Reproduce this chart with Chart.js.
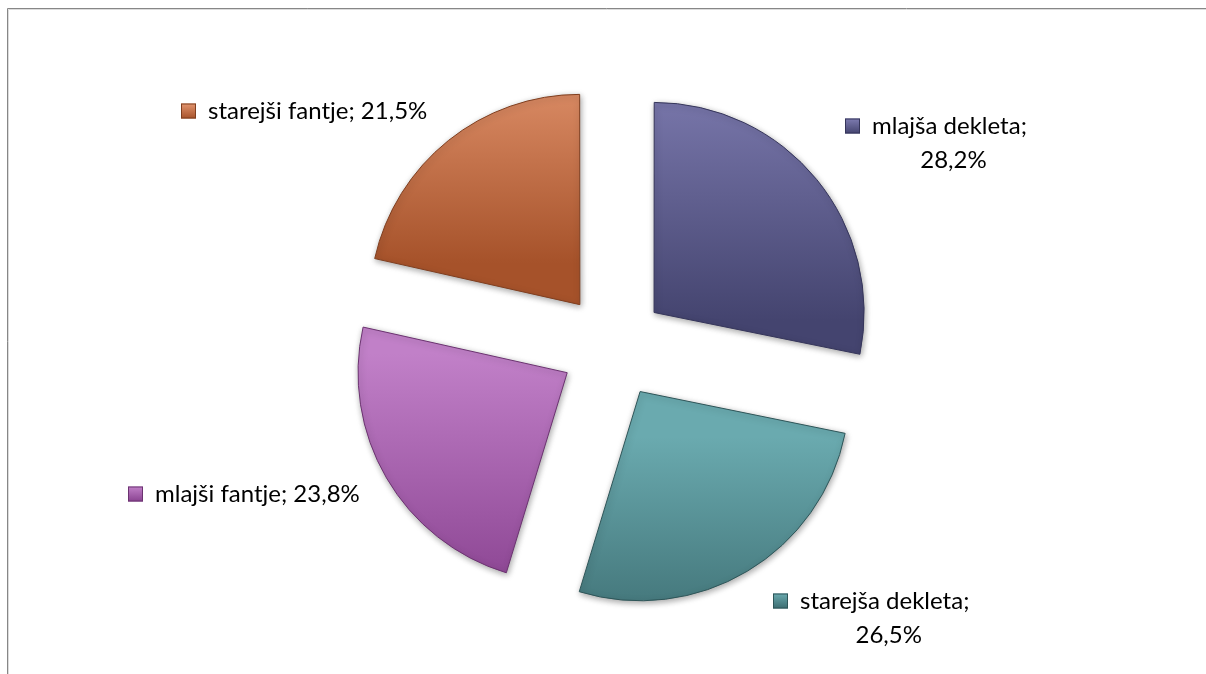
<!DOCTYPE html>
<html><head><meta charset="utf-8">
<script src="https://cdn.jsdelivr.net/npm/chart.js@4.4.0/dist/chart.umd.min.js"></script>
<style>html,body{margin:0;padding:0;background:#fff;} #wrap{position:relative;width:1206px;height:674px;}</style>
</head><body><div id="wrap"><canvas id="c" width="1206" height="674"></canvas></div>
<script>
// ---- data ----
const categories = ['mlajša dekleta', 'starejša dekleta', 'mlajši fantje', 'starejši fantje'];
const shares = [28.2, 26.5, 23.8, 21.5];
const valueLabels = ['28,2%', '26,5%', '23,8%', '21,5%'];

// ---- styles / layout ----
const gradTop = ['#7e7cb1', '#6aaaaf', '#c180c8', '#e3956f'];
const gradBottom = ['#44446f', '#3c6c70', '#894290', '#a6522a'];
const edgeColors = ['#35355a', '#2e5558', '#6b3270', '#7f3e1f'];
const labelLayout = [
  {dx: 232, dy: -220, wrap: true},
  {dx: 160, dy: 255, wrap: true},
  {dx: -485, dy: 148, wrap: false},
  {dx: -432, dy: -235, wrap: false}
];
const OFFSET = 212;   // arc offset (Chart.js translates by offset/4)
const RADIUS = 209;
const FONT = '24px Lato';
const SQ = 15;
const GAP = 12;

function sliceGeom(chart, data, i) {
  const ca = chart.chartArea;
  const total = data.reduce((a, b) => a + b, 0);
  let before = 0;
  for (let k = 0; k < i; k++) before += data[k];
  const a0 = -Math.PI / 2 + before / total * 2 * Math.PI;
  const a1 = a0 + data[i] / total * 2 * Math.PI;
  const mid = (a0 + a1) / 2;
  const cx = (ca.left + ca.right) / 2 + Math.cos(mid) * OFFSET / 4;
  const cy = (ca.top + ca.bottom) / 2 + Math.sin(mid) * OFFSET / 4;
  return {a0, a1, cx, cy};
}

function sliceGradient(ctx) {
  const chart = ctx.chart;
  const i = ctx.dataIndex;
  if (!chart.chartArea) return gradTop[i];
  const g0 = sliceGeom(chart, ctx.dataset.data, i);
  const R = RADIUS;
  const ys = [g0.cy, g0.cy + R * Math.sin(g0.a0), g0.cy + R * Math.sin(g0.a1)];
  const eps = 1e-6;
  if (g0.a0 < Math.PI / 2 && g0.a1 > Math.PI / 2) ys.push(g0.cy + R);
  if (g0.a0 <= -Math.PI / 2 + eps || g0.a1 >= 3 * Math.PI / 2 - eps) ys.push(g0.cy - R);
  const g = chart.ctx.createLinearGradient(0, Math.min(...ys), 0, Math.max(...ys));
  g.addColorStop(0, gradTop[i]);
  g.addColorStop(1, gradBottom[i]);
  return g;
}

const framePlugin = {
  id: 'frame',
  beforeDraw(chart) {
    const c = chart.ctx;
    c.save();
    c.lineWidth = 1;
    c.strokeStyle = '#dcdcdc';
    c.beginPath(); c.moveTo(8.5, chart.height); c.lineTo(8.5, 9.5); c.lineTo(chart.width, 9.5); c.stroke();
    c.strokeStyle = '#878787';
    c.beginPath(); c.moveTo(7.5, chart.height); c.lineTo(7.5, 8.5); c.lineTo(chart.width, 8.5); c.stroke();
    c.restore();
  }
};

const shadowPlugin = {
  id: 'shadow',
  beforeDatasetsDraw(chart) {
    const c = chart.ctx;
    c.save();
    c.shadowColor = 'rgba(0,0,0,0.35)';
    c.shadowBlur = 6;
    c.shadowOffsetX = 1;
    c.shadowOffsetY = 2;
  },
  afterDatasetsDraw(chart) { chart.ctx.restore(); }
};

const labelPlugin = {
  id: 'sliceLabels',
  afterDraw(chart) {
    const c = chart.ctx;
    const ca = chart.chartArea;
    const pcx = (ca.left + ca.right) / 2, pcy = (ca.top + ca.bottom) / 2;
    c.save();
    c.font = FONT;
    c.textBaseline = 'middle';
    chart.data.labels.forEach((lab, i) => {
      const L = labelLayout[i];
      const sx = pcx + L.dx, sy = pcy + L.dy;
      const g = c.createLinearGradient(0, sy - SQ / 2, 0, sy + SQ / 2);
      g.addColorStop(0, gradTop[i]); g.addColorStop(1, gradBottom[i]);
      c.fillStyle = g;
      c.fillRect(sx, sy - SQ / 2, SQ, SQ);
      c.strokeStyle = edgeColors[i];
      c.lineWidth = 1;
      c.strokeRect(sx + 0.5, sy - SQ / 2 + 0.5, SQ - 1, SQ - 1);
      c.fillStyle = '#000';
      const tx = sx + SQ + GAP;
      const v = chart.data.datasets[0].valueLabels[i];
      if (L.wrap) {
        const l1 = lab + ';';
        c.textAlign = 'left';
        c.fillText(l1, tx, sy);
        const w = c.measureText(l1).width;
        c.textAlign = 'center';
        c.fillText(v, tx + w / 2 + 4, sy + 34);
      } else {
        c.textAlign = 'left';
        c.fillText(lab + '; ' + v, tx, sy);
      }
    });
    c.restore();
  }
};

new Chart(document.getElementById('c'), {
  type: 'pie',
  data: {
    labels: categories,
    datasets: [{
      data: shares,
      valueLabels: valueLabels,
      backgroundColor: sliceGradient,
      borderColor: edgeColors,
      borderWidth: 1,
      offset: OFFSET,
      radius: RADIUS
    }]
  },
  options: {
    responsive: false,
    animation: false,
    events: [],
    radius: RADIUS,
    layout: {padding: {left: 20, top: 18, right: 0, bottom: 0}},
    plugins: {legend: {display: false}, tooltip: {enabled: false}}
  },
  plugins: [framePlugin, shadowPlugin, labelPlugin]
});
</script></body></html>
